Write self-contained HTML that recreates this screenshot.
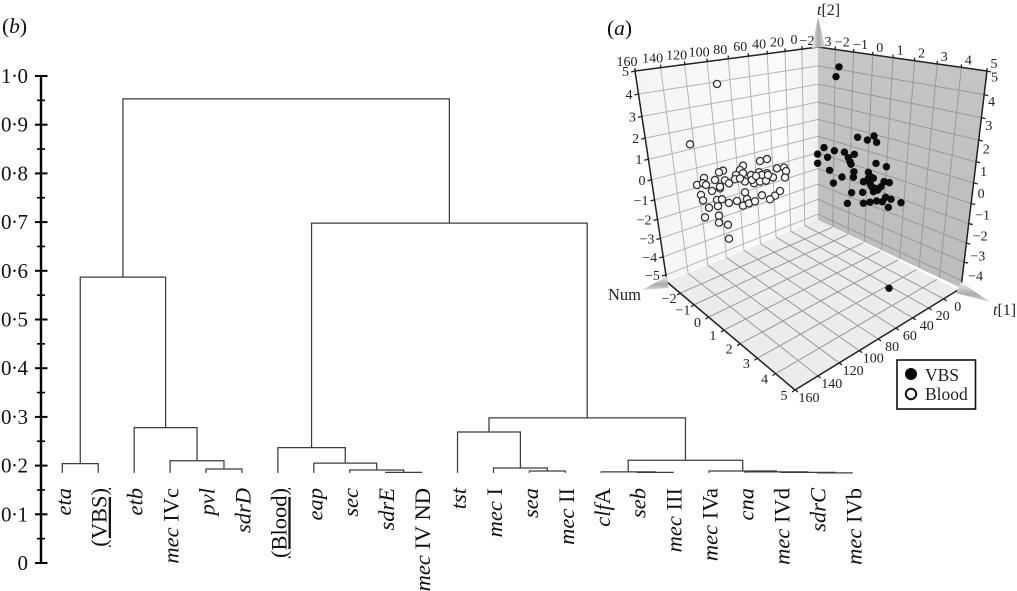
<!DOCTYPE html>
<html>
<head>
<meta charset="utf-8">
<style>
html,body{margin:0;padding:0;background:#fff;width:1017px;height:591px;overflow:hidden}
svg{display:block;font-family:"Liberation Serif",serif}
</style>
</head>
<body>
<svg id="fig" width="1017" height="591" viewBox="0 0 1017 591" xmlns="http://www.w3.org/2000/svg">
<defs>
<linearGradient id="lw" x1="0" y1="0" x2="1" y2="0"><stop offset="0" stop-color="#f4f4f4"/><stop offset="0.8" stop-color="#fbfbfb"/><stop offset="1" stop-color="#f0f0f0"/></linearGradient>
<linearGradient id="rw" x1="0" y1="0" x2="0" y2="1"><stop offset="0" stop-color="#c6c6c6"/><stop offset="1" stop-color="#bcbcbc"/></linearGradient>
<linearGradient id="cone" x1="0" y1="0" x2="1" y2="0"><stop offset="0" stop-color="#eee"/><stop offset="0.5" stop-color="#aaa"/><stop offset="1" stop-color="#ddd"/></linearGradient>
<linearGradient id="cone2" x1="0" y1="0" x2="0" y2="1"><stop offset="0" stop-color="#f2f2f2"/><stop offset="0.6" stop-color="#aaa"/><stop offset="1" stop-color="#ddd"/></linearGradient>
</defs>
<text x="2" y="33" font-size="21.5" fill="#111">(<tspan font-style="italic">b</tspan>)</text>
<text x="607" y="35" font-size="21.5" fill="#111">(<tspan font-style="italic">a</tspan>)</text>
<g id="dendro"></g>
<g id="panel"></g>
<g>
<rect x="897" y="360" width="78.5" height="49" fill="#fff" stroke="#111" stroke-width="1.6"/>
<circle cx="911" cy="374" r="6" fill="#000"/>
<circle cx="911" cy="394" r="5.2" fill="#fff" stroke="#111" stroke-width="2"/>
<text x="925" y="381" font-size="17.5" fill="#222">VBS</text>
<text x="925" y="400" font-size="17.5" fill="#222">Blood</text>
</g>
</svg>
<script>
/* ---- Dendrogram data ---- */
const leafNames = ["eta","(VBS)","etb","mec IVc","pvl","sdrD","(Blood)","eap","sec","sdrE","mec IV ND","tst","mec I","sea","mec II","clfA","seb","mec III","mec IVa","cna","mec IVd","sdrC","mec IVb"];
const leafBase = 0.185;
const mergeLeft  = [0,4,3,2,23,9,8,7,6,13,12,11,16,15,21,20,19,18,36,34,31,27];
const mergeRight = [1,5,24,25,26,10,28,29,30,14,32,33,17,35,22,37,38,39,40,41,42,43];
const mergeHeight = [0.204,0.193,0.210,0.278,0.587,0.186,0.191,0.205,0.237,0.189,0.195,0.269,0.186,0.187,0.185,0.186,0.187,0.189,0.211,0.298,0.698,0.953];
const yTicks = [0,0.1,0.2,0.3,0.4,0.5,0.6,0.7,0.8,0.9,1.0];
const yMinor = [0.05,0.15,0.25,0.35,0.45,0.55,0.65,0.75,0.85,0.95];
const yTickLabels = ["0","0·1","0·2","0·3","0·4","0·5","0·6","0·7","0·8","0·9","1·0"];

/* ---- 3-D scatter data ---- */
const t1Ticks = [0,20,40,60,80,100,120,140,160];
const t2Ticks = [-5,-4,-3,-2,-1,0,1,2,3,4,5];
const numTicks = [-2,-1,0,1,2,3,4,5];
const bloodT1 = [83,110,33,40,57,77,81,60,96,85,75,64,57,49,41,23,16,14,33,38,27,15,65,55,103,97,71,46,40,34,80,88,99,55,38,25,20,30,97,83,78,71,63,57,53,51,45,82,91,81,95,81,72,71,94,48,60,44,80,32];
const bloodT2 = [3.69,1.01,-0.69,-0.70,-0.72,-0.72,-0.75,-0.90,-0.85,-1.09,-1.23,-1.10,-1.10,-1.29,-1.25,-1.28,-1.33,-1.53,-1.40,-1.42,-1.68,-1.84,-1.30,-1.54,-1.11,-1.10,-1.43,-1.74,-1.73,-1.76,-1.57,-1.60,-1.66,-2.08,-2.44,-2.62,-2.45,-2.74,-1.96,-2.11,-2.14,-2.41,-2.41,-2.72,-2.44,-2.68,-2.65,-2.43,-2.40,-2.92,-2.83,-3.27,-3.49,-4.20,-1.22,-1.55,-1.32,-1.40,-1.49,-1.50];
const vbsNum = [-1.85,-2.0,-0.92,-0.43,-0.10,0.03,-2.6,-2.92,-2.42,-2.08,-1.58,-1.08,-1.38,-1.3,-1.25,-2.92,-2.32,0,0.52,-1.1,-1.13,-1.7,-2.13,-0.38,-0.27,-0.63,-0.13,-0.3,-0.05,0.4,0.67,0.25,-1.22,-0.67,-0.13,-1.43,-0.63,-0.3,0.03,0.48,0.75,0.32,1.25,0.62,-0.38,-0.22,0.08,0.65];
const vbsT2 = [3.70,3.17,0.46,0.47,0.77,0.49,-0.56,-0.98,-0.99,-0.56,-0.48,-0.44,-0.70,-0.88,-0.99,-1.44,-1.61,-0.57,-0.58,-1.32,-1.6,-1.76,-2.19,-1.13,-1.32,-1.67,-1.35,-1.66,-1.83,-1.36,-1.33,-1.66,-2.40,-2.22,-2.02,-3.0,-2.75,-2.6,-2.44,-2.12,-2.14,-2.39,-2.16,-2.58,-1.43,-1.8,-1.88,-6.62];

const NS = "http://www.w3.org/2000/svg";
function mk(parent, tag, attrs, txt){
  const e = document.createElementNS(NS, tag);
  for (const k in attrs) e.setAttribute(k, attrs[k]);
  if (txt !== undefined) e.textContent = txt;
  parent.appendChild(e);
  return e;
}
const dg = document.getElementById("dendro");
const pn = document.getElementById("panel");

/* ---- Dendrogram axes ---- */
const yScale = v => 563 - v * 487;
const leafX = i => 62.3 + i * 35.93;

const yAxis = mk(dg, "line", {x1:41, x2:41, y1:yScale(1), y2:yScale(0), stroke:"#000", "stroke-width":2.4});


yTicks.forEach((v, i) => {
  const t = mk(dg, "line", {x1:35, x2:47.5, y1:yScale(v), y2:yScale(v), stroke:"#000", "stroke-width":2});
  
  
  const l = mk(dg, "text", {x:27.5, y:yScale(v)+7, "text-anchor":"end", "font-size":21, "letter-spacing":"-0.5", fill:"#111"}, yTickLabels[i]);
  
  
});
yMinor.forEach(v => {
  const t = mk(dg, "line", {x1:37, x2:45, y1:yScale(v), y2:yScale(v), stroke:"#000", "stroke-width":1.6});
  
  
});

/* ---- Dendrogram tree ---- */
const nodeX = leafNames.map((_, i) => leafX(i));
const nodeV = leafNames.map(() => leafBase);
mergeHeight.forEach((h, i) => {
  const a = mergeLeft[i], b = mergeRight[i];
  const xa = nodeX[a], xb = nodeX[b], y = yScale(h);
  const d = "M" + xa + " " + yScale(nodeV[a]) + "V" + y + "H" + xb + "V" + yScale(nodeV[b]);
  const p = mk(dg, "path", {d:d, fill:"none", stroke:"#3c3c3c", "stroke-width":1.25});
  
  
  nodeX.push((xa + xb) / 2);
  nodeV.push(h);
});

/* ---- Leaf labels ---- */
leafNames.forEach((name, i) => {
  const bx = leafX(i) + 8.5;
  const t = mk(dg, "text", {transform:"translate(" + bx + ",488) rotate(-90)", "text-anchor":"end", "font-size":22.5, fill:"#111"});
  
  
  if (name.startsWith("mec ")) {
    mk(t, "tspan", {"font-style":"italic"}, "mec");
    mk(t, "tspan", {}, name.slice(3));
  } else if (name === "clfA") {
    mk(t, "tspan", {"font-style":"italic"}, "clf");
    mk(t, "tspan", {}, "A");
  } else if (name.startsWith("(")) {
    t.setAttribute("text-decoration", "underline");
    t.textContent = name;
  } else {
    t.setAttribute("font-style", "italic");
    t.textContent = name;
  }
});

/* ---- 3-D panel geometry ---- */
const LT = [635,71], BT = [818,47], BB = [818,220], LB = [667,282], RT = [987,71], RB = [961,288], FR = [958,290], FF = [795,390];
const lerp = (a, b, t) => [a[0] + (b[0]-a[0])*t, a[1] + (b[1]-a[1])*t];
const vp = v => v * 1.15 / (1 + 0.15 * v);
const bil = (a, b, c, d, u, v) => lerp(lerp(a, b, u), lerp(c, d, u), v);
const persp = (u, a) => u / (1 + a * (1 - u));
const t1U = t => persp((t + 20) / 180, 0.3);
const numU = n => persp((n + 3) / 8, 0.25);
const t2Raw = t => (5 - t) / 10.4;
const t2V = t => vp(t2Raw(t));
const leftWall = (t1, t2) => bil(BT, LT, BB, LB, t1U(t1), t2V(t2));
const rightWall = (n, t2) => bil(BT, RT, BB, RB, numU(n), t2V(t2));
const floorPt = (n, t1) => bil(BB, FR, LB, FF, numU(n), t1U(t1));

const poly = pts => pts.map(p => p.join(",")).join(" ");
const w1 = mk(pn, "polygon", {points:poly([LT,BT,BB,LB]), fill:"url(#lw)"});


const w2 = mk(pn, "polygon", {points:poly([BT,RT,RB,BB]), fill:"url(#rw)"});


const w3 = mk(pn, "polygon", {points:poly([BB,FR,FF,LB]), fill:"#ececec"});



function gridLine(a, b, col){
  const l = mk(pn, "line", {x1:a[0], y1:a[1], x2:b[0], y2:b[1], stroke:col, "stroke-width":1});
  
  
}
t2Ticks.forEach(t => {
  gridLine(bil(BT, LT, BB, LB, 1, t2V(t)), bil(BT, LT, BB, LB, 0, t2V(t)), "#b4b4b4");
  gridLine(bil(BT, RT, BB, RB, 0, t2V(t)), bil(BT, RT, BB, RB, 1, t2V(t)), "#9a9a9a");
});
t1Ticks.forEach(t => {
  gridLine(bil(BT, LT, BB, LB, t1U(t), 0), bil(BT, LT, BB, LB, t1U(t), 1), "#b4b4b4");
  gridLine(bil(BB, FR, LB, FF, 0, t1U(t)), bil(BB, FR, LB, FF, 1, t1U(t)), "#999");
});
numTicks.forEach(n => {
  gridLine(bil(BT, RT, BB, RB, numU(n), 0), bil(BT, RT, BB, RB, numU(n), 1), "#9a9a9a");
  gridLine(bil(BB, FR, LB, FF, numU(n), 1), bil(BB, FR, LB, FF, numU(n), 0), "#999");
});

function edge(a, b){
  const l = mk(pn, "line", {x1:a[0], y1:a[1], x2:b[0], y2:b[1], stroke:"#222", "stroke-width":1.5});
  
  
}
edge(LT, BT); edge(BT, RT); edge(LT, LB); edge(RT, RB); edge(LB, FF); edge(FF, FR);

function tickMark(p, dx, dy){
  const l = mk(pn, "line", {x1:p[0], y1:p[1], x2:p[0]+dx, y2:p[1]+dy, stroke:"#222", "stroke-width":1.3});
  
  
}
function tickText(p, dx, dy, anchor, s){
  const l = mk(pn, "text", {x:p[0]+dx, y:p[1]+dy, "text-anchor":anchor, "font-size":14, fill:"#222"}, s);
  
  
}
const fmt = v => v < 0 ? "\u2212" + (-v) : String(v);

t1Ticks.forEach(t => {
  const top = leftWall(t, 5);
  tickMark(top, 0, -3);
  tickText(top, -8, -5, "middle", fmt(t));
  const bot = floorPt(5, t);
  tickMark(bot, 3, 2);
  tickText(bot, 14, 12, "middle", fmt(t));
});
t2Ticks.forEach(t => {
  const l = leftWall(160, t);
  const lp = bil(BT, LT, BB, LB, 1, t2V(t));
  tickMark(lp, -4, 1);
  tickText(lp, -6, 5, "end", fmt(t));
  if (t > -5) {
    const r = bil(BT, RT, BB, RB, 1, t2V(t));
    tickMark(r, 4, 1);
    tickText(r, 4, 10.5 + 9 * t2V(t), "start", fmt(t));
  }
});
numTicks.forEach(n => {
  const top = rightWall(n, 5);
  tickMark(top, 0, -3);
  tickText(top, 7, -3, "middle", fmt(n));
  const bot = floorPt(n, 160);
  tickMark(bot, -3, 2);
  tickText(bot, -11, 10, "middle", fmt(n));
});
tickText([807,45], 0, 0, "middle", "\u22122");
tickText([828,46], 0, 0, "middle", "3");

/* ---- 3-D scatter points ---- */
const projBloodX = t1 => 800 - t1;
const projBloodY = (t1, t2) => 137 + 0.25 * t1 - 20 * t2;
const projVbsX = n => 876 + 20 * n;
const projVbsY = (n, t2) => 152 + 6 * n - 20 * t2;

bloodT1.forEach((t, i) => {
  const c = mk(pn, "circle", {cx:projBloodX(t), cy:projBloodY(t, bloodT2[i]), r:3.6, fill:"#fff", stroke:"#333", "stroke-width":1.3});
  
  
});
vbsNum.forEach((n, i) => {
  const c = mk(pn, "circle", {cx:projVbsX(n), cy:projVbsY(n, vbsT2[i]), r:3.7, fill:"#0a0a0a"});
  
  
});

/* ---- Axis cones and titles ---- */
const c1 = mk(pn, "polygon", {points:"818,17 812,48 825,47", fill:"url(#cone)"});


const c2 = mk(pn, "polygon", {points:"642,290 668,276 668,288", fill:"url(#cone2)"});


const c3 = mk(pn, "polygon", {points:"990,302 961,282 956,293", fill:"url(#cone2)"});



const tt2 = mk(pn, "text", {x:817, y:15, "font-size":16, fill:"#222"});


mk(tt2, "tspan", {"font-style":"italic"}, "t");
mk(tt2, "tspan", {}, "[2]");
const tt1 = mk(pn, "text", {x:993, y:315, "font-size":16, fill:"#222"});


mk(tt1, "tspan", {"font-style":"italic"}, "t");
mk(tt1, "tspan", {}, "[1]");
const tn = mk(pn, "text", {x:608, y:300, "font-size":16.5, fill:"#222"}, "Num");


</script>
</body>
</html>
